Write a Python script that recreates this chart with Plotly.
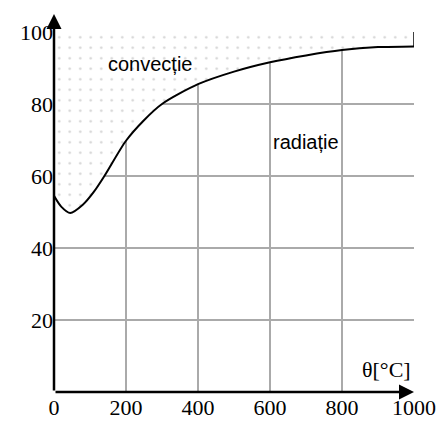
import plotly.graph_objects as go

theta = [0, 20, 45, 80, 110, 140, 200, 250, 300, 400, 500, 600, 700, 800, 900, 1000]
phi = [54.5, 51.5, 49.7, 52, 55.5, 60, 69.8, 75.5, 80, 85.5, 89, 91.6, 93.5, 95, 95.8, 96]
x_ticks = [0, 200, 400, 600, 800, 1000]
y_ticks = [20, 40, 60, 80, 100]

serif = "Liberation Serif, Times New Roman, serif"
sans = "Liberation Sans, Arial, sans-serif"

fig = go.Figure()
fig.add_trace(go.Scatter(x=[0, 1000], y=[100, 100], mode="lines",
                         line=dict(width=0), hoverinfo="skip", showlegend=False))
fig.add_trace(go.Scatter(x=theta, y=phi, mode="lines", fill="tonexty",
                         fillcolor="rgba(0,0,0,0)",
                         fillpattern=dict(shape=".", fgcolor="#a8a8a8", bgcolor="white",
                                          size=10.5, solidity=0.045),
                         line=dict(color="black", width=2, shape="spline", smoothing=0.8),
                         showlegend=False))
fig.add_trace(go.Scatter(x=[1000, 1000], y=[phi[-1], 100], mode="lines",
                         line=dict(color="black", width=1.5), showlegend=False))

fig.update_xaxes(range=[0, 1000], tickvals=x_ticks, showgrid=True, gridcolor="#aaaaaa",
                 gridwidth=1.5, zeroline=False, showline=False, ticks="", automargin=False,
                 tickfont=dict(family=serif, size=22, color="black"))
fig.update_yaxes(range=[0, 100], tickvals=y_ticks, showgrid=True, gridcolor="#aaaaaa",
                 gridwidth=1.5, zeroline=False, showline=False, ticks="", automargin=False,
                 tickfont=dict(family=serif, size=22, color="black"))

anns = [
    dict(x=0, y=105, ax=0, ay=0, axref="x", ayref="y", xref="x", yref="y",
         showarrow=True, arrowhead=2, arrowsize=1.2, arrowwidth=2.5, arrowcolor="black", text=""),
    dict(x=1000, y=0, ax=0, ay=0, axref="x", ayref="y", xref="x", yref="y",
         showarrow=True, arrowhead=2, arrowsize=1.2, arrowwidth=2.5, arrowcolor="black", text=""),
    dict(x=20, y=104.5, xref="x", yref="y", text="<i>Φ</i> [%]", showarrow=False,
         xanchor="left", yanchor="middle", font=dict(family=serif, size=22, color="black")),
    dict(x=997, y=6.3, xref="x", yref="y", text="θ[°C]", showarrow=False,
         xanchor="right", yanchor="middle", font=dict(family=serif, size=22, color="black")),
    dict(x=267, y=91, xref="x", yref="y", text="convecție", showarrow=False,
         xanchor="center", yanchor="middle", font=dict(family=sans, size=20, color="black")),
    dict(x=700, y=69.5, xref="x", yref="y", text="radiație", showarrow=False,
         xanchor="center", yanchor="middle", font=dict(family=sans, size=20, color="black")),
]
fig.update_layout(width=439, height=421, margin=dict(l=54, r=25, t=32, b=29),
                  plot_bgcolor="white", paper_bgcolor="white", annotations=anns)
fig.write_html("out.html", config={"displayModeBar": False},
               post_script="document.body.style.margin='0';document.body.style.overflow='hidden';")
